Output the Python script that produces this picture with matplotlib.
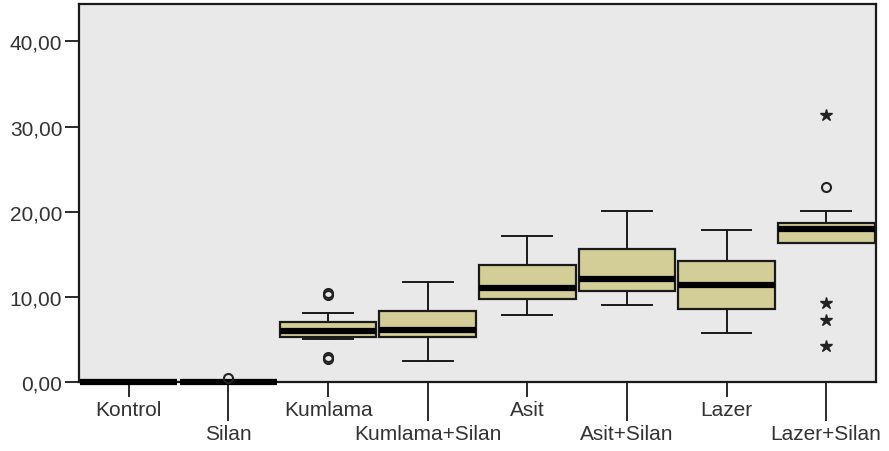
import matplotlib
matplotlib.use('Agg')
from matplotlib import pyplot as plt

groups = ['Kontrol', 'Silan', 'Kumlama', 'Kumlama+Silan', 'Asit', 'Asit+Silan', 'Lazer', 'Lazer+Silan']
q1 = [0, 0, 5.25, 5.25, 9.75, 10.65, 8.6, 16.3]
med = [0, 0, 5.95, 6.15, 11.1, 12.1, 11.4, 17.95]
q3 = [0, 0, 7.0, 8.3, 13.7, 15.6, 14.2, 18.65]
whis_lo = [0, 0, 5.05, 2.5, 7.9, 9.05, 5.7, 16.3]
whis_hi = [0, 0, 8.1, 11.8, 17.2, 20.05, 17.9, 20.05]
# outliers (o) and extremes (*)
out_circle = [[], [0.45], [10.45, 10.2, 2.9, 2.65], [], [], [], [], [22.9]]
out_star = [[], [], [], [], [], [], [], [31.4, 9.3, 7.3, 4.2]]
ytick_vals = [0, 10, 20, 30, 40]
ytick_labels = ['0,00', '10,00', '20,00', '30,00', '40,00']

plt.rcParams['font.family'] = ['Liberation Sans', 'DejaVu Sans']
fig = plt.figure(figsize=(8.89, 4.52), dpi=100)
ax = fig.add_axes([79 / 889, 1 - 383 / 452, 797 / 889, 378 / 452])
ax.set_facecolor('#e9e9e9')

stats = []
for i in range(len(groups)):
    stats.append({'label': groups[i], 'med': med[i], 'q1': q1[i], 'q3': q3[i],
                  'whislo': whis_lo[i], 'whishi': whis_hi[i], 'fliers': []})

pos = list(range(len(groups)))
bp = ax.bxp(stats, positions=pos, widths=0.97, capwidths=0.5, patch_artist=True,
            showfliers=False,
            boxprops=dict(facecolor='#d3ce98', edgecolor='#1a1a1a', linewidth=1.6),
            medianprops=dict(color='black', linewidth=4.5, solid_capstyle='butt'),
            whiskerprops=dict(color='#1a1a1a', linewidth=1.4),
            capprops=dict(color='#1a1a1a', linewidth=1.4))
for m in bp['medians']:
    m.set_clip_on(False)
    m.set_zorder(5)

for i in range(len(groups)):
    if out_circle[i]:
        ax.plot([pos[i]] * len(out_circle[i]), out_circle[i], 'o', ms=6.5, mfc='none',
                mec='#222222', mew=1.5, clip_on=False, zorder=6)
    if out_star[i]:
        ax.plot([pos[i]] * len(out_star[i]), out_star[i], '*', ms=9, color='#222222',
                clip_on=False, zorder=6)

ax.set_xlim(-0.5, len(groups) - 0.5)
ax.set_ylim(0, 44.4)
ax.set_yticks(ytick_vals)
ax.set_yticklabels(ytick_labels)

ax.set_xticks(pos[0::2])
ax.set_xticklabels(groups[0::2])
ax.set_xticks(pos[1::2], minor=True)
ax.set_xticklabels(groups[1::2], minor=True)

ax.tick_params(axis='x', which='major', length=10.8, width=1.3, pad=2, labelsize=15, colors='#1a1a1a')
ax.tick_params(axis='x', which='minor', length=28, width=1.3, pad=2, labelsize=15, colors='#1a1a1a')
ax.tick_params(axis='y', length=10, width=1.3, pad=2, labelsize=15, colors='#1a1a1a')
for tl in ax.get_xticklabels() + ax.get_xticklabels(minor=True) + ax.get_yticklabels():
    tl.set_color('#333333')

for s in ax.spines.values():
    s.set_linewidth(1.6)
    s.set_color('#1a1a1a')

fig.savefig('out.png', dpi=100)
